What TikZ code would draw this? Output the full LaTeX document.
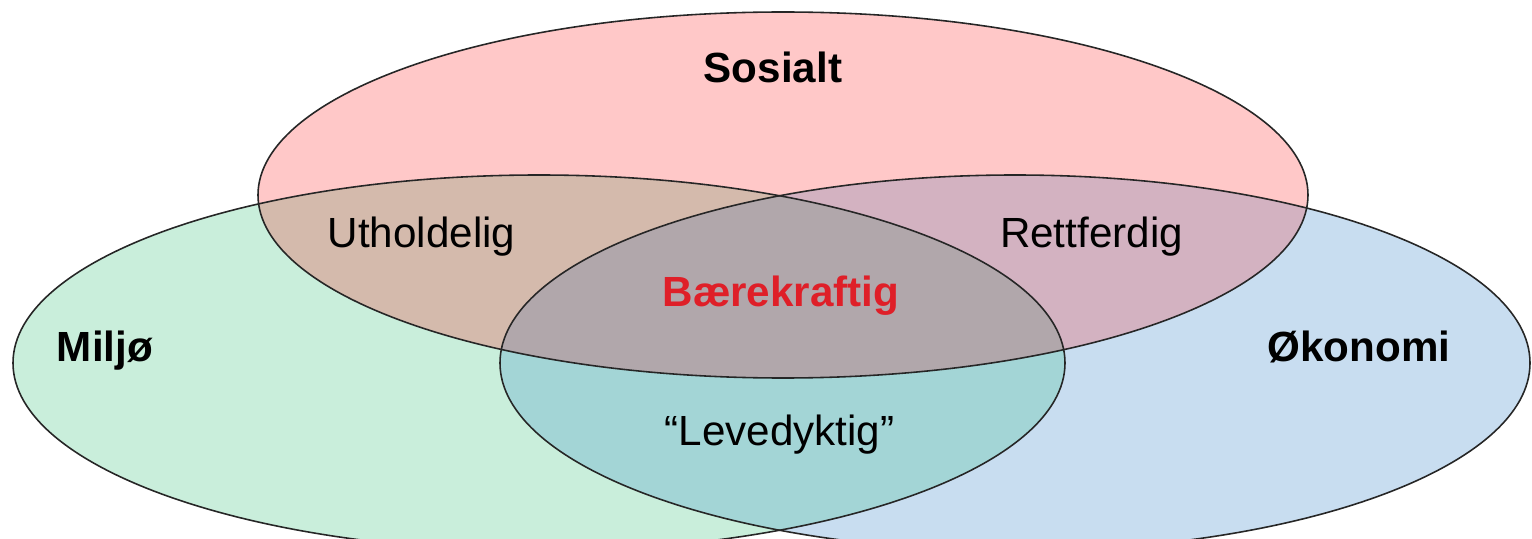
\documentclass[tikz,border=0pt]{standalone}
\usepackage{fontspec}
\setmainfont{Liberation Sans}
\usepackage{xcolor}
\definecolor{sosfill}{HTML}{FFC8C8}
\definecolor{milfill}{HTML}{C9EEDB}
\definecolor{okofill}{HTML}{C8DDF0}
\definecolor{sosmil}{HTML}{D4BAAC}
\definecolor{sosoko}{HTML}{D3B2C1}
\definecolor{miloko}{HTML}{A3D5D6}
\definecolor{midfill}{HTML}{B1A7AB}
\definecolor{baerred}{HTML}{DF1F28}

\begin{document}
\begin{tikzpicture}[lbl/.style={anchor=base, font=\fontsize{24}{28}\selectfont},
        hlbl/.style={lbl, font=\fontsize{24}{28}\selectfont\bfseries}]
        \useasboundingbox (0,0) rectangle (30.64,10.76);
        \coordinate (sos) at (15.66,6.86);
        \coordinate (mil) at (10.78,3.5);
        \coordinate (oko) at (20.30,3.5);

        % the three circles
        \fill [sosfill] (sos) ellipse (10.5 and 3.66);
        \fill [milfill] (mil) ellipse (10.52 and 3.76);
        \fill [okofill] (oko) ellipse (10.3 and 3.76);

        % overlaps
        \begin{scope}
            \clip (mil) ellipse (10.52 and 3.76);
            \fill [miloko] (oko) ellipse (10.3 and 3.76);
        \end{scope}
        \begin{scope}
            \clip (sos) ellipse (10.5 and 3.66);
            \fill [sosmil] (mil) ellipse (10.52 and 3.76);
            \fill [sosoko] (oko) ellipse (10.3 and 3.76);
            \clip (mil) ellipse (10.52 and 3.76);
            \fill [midfill] (oko) ellipse (10.3 and 3.76);
        \end{scope}

        \draw [line width=0.9pt, black!85] (sos) ellipse (10.5 and 3.66);
        \draw [line width=0.9pt, black!85] (mil) ellipse (10.52 and 3.76);
        \draw [line width=0.9pt, black!85] (oko) ellipse (10.3 and 3.76);

        \node [hlbl] (sosialt) at (15.46,9.10) {Sosialt};
        \node [hlbl] (miljo) at (2.10,3.52) {Miljø};
        \node [hlbl] (okonomi) at (27.18,3.52) {Økonomi};
        \node [lbl] (uthold) at (8.43,5.80) {Utholdelig};
        \node [lbl] (rettf) at (21.83,5.80) {Rettferdig};
        \node [hlbl, baerred] (baerek) at (15.62,4.62) {Bærekraftig};
        \node [lbl] (leved) at (15.59,1.86) {“Levedyktig”};
    \end{tikzpicture}
\end{document}
